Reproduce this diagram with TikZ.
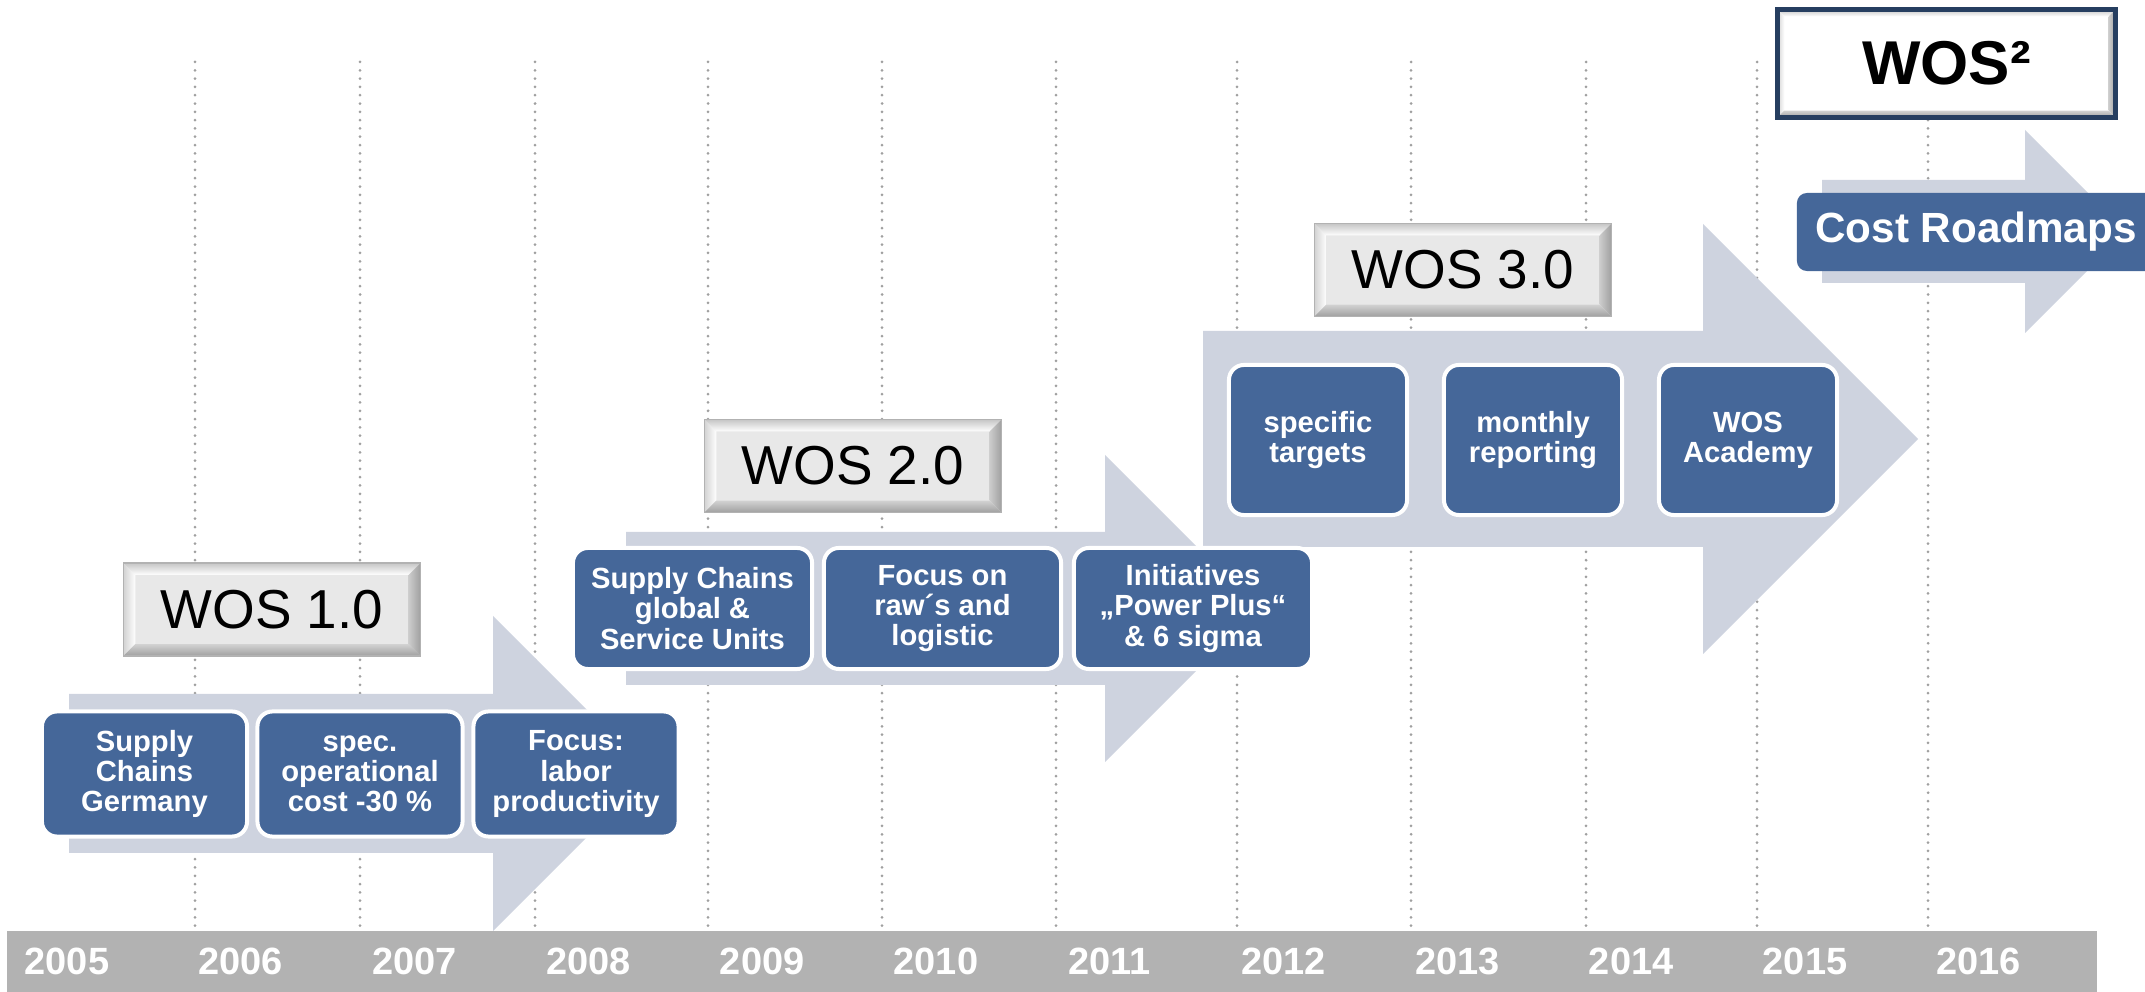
\documentclass[tikz,border=0pt]{standalone}
\usepackage{fontspec}
\setmainfont{Liberation Sans}
\usepackage{xcolor}

\definecolor{wosblue}{RGB}{69,103,153}
\definecolor{arrowgray}{RGB}{206,211,223}
\definecolor{bargray}{RGB}{178,178,178}
\definecolor{dotgray}{RGB}{160,160,160}
\definecolor{framenavy}{RGB}{38,62,96}

\tikzset{
    gridline/.style={dotgray, line width=0.03cm, line cap=round, dash pattern=on 0pt off 0.083cm},
    yearlabel/.style={text=white, font=\bfseries\fontsize{10.8}{13}\selectfont},
    itembox/.style={fill=wosblue, draw=white, line width=0.04cm, rounded corners=0.15cm,
        text=white, align=center, inner sep=0pt, font=\bfseries\fontsize{8.3}{8.6}\selectfont},
    bevel/.style={path picture={
        \coordinate (pa) at (path picture bounding box.north west);
        \coordinate (pb) at (path picture bounding box.north east);
        \coordinate (pc) at (path picture bounding box.south east);
        \coordinate (pd) at (path picture bounding box.south west);
        \shade[top color=gray!45, bottom color=white] (pa) -- (pb) -- ([shift={(-#1,-#1)}]pb) -- ([shift={(#1,-#1)}]pa) -- cycle;
        \shade[left color=gray!35, right color=white] (pa) -- ([shift={(#1,-#1)}]pa) -- ([shift={(#1,#1)}]pd) -- (pd) -- cycle;
        \shade[left color=gray!40, right color=gray!75] (pb) -- (pc) -- ([shift={(-#1,#1)}]pc) -- ([shift={(-#1,-#1)}]pb) -- cycle;
        \shade[top color=gray!35, bottom color=gray!75] (pd) -- ([shift={(#1,#1)}]pd) -- ([shift={(-#1,#1)}]pc) -- (pc) -- cycle;
    }},
    wosbox/.style={fill=gray!18, draw=gray!60, line width=0.4pt, bevel=0.12cm,
        minimum width=2.97cm, minimum height=0.93cm, inner sep=0pt,
        font=\fontsize{15.6}{18}\selectfont},
    wossq/.style={fill=white, draw=framenavy, line width=0.05cm, bevel=0.07cm,
        minimum width=3.38cm, minimum height=1.08cm, inner sep=0pt,
        font=\bfseries\fontsize{17.6}{20}\selectfont},
    costbox/.style={fill=wosblue, rounded corners=0.1cm, text=white, inner sep=0pt,
        minimum width=3.58cm, minimum height=0.78cm,
        font=\bfseries\fontsize{12}{14}\selectfont}
}

\begin{document}
\begin{tikzpicture}[x=0.01cm, y=-0.01cm]
    \useasboundingbox (0,0) rectangle (2145,992);

    % Grid lines
    \foreach \gx in {195,360,535,708,882,1056,1237,1411,1586,1757,1928}
        \draw[gridline] (\gx,62) -- (\gx,931);

    % Year bar
    \fill[bargray] (7,931) rectangle (2097,992);
    \foreach \yr [count=\i from 0] in {2005,...,2016}
        \node[yearlabel] (y\yr) at ({67+173.8*\i},961.5) {\yr};

    % Stage arrows
    \fill[arrowgray] (69,694) -- (493,694) -- (493,616) -- (650.5,773.5) -- (493,931) -- (493,853) -- (69,853) -- cycle;
    \fill[arrowgray] (626,532) -- (1105,532) -- (1105,455) -- (1258.5,608.5) -- (1105,762) -- (1105,685) -- (626,685) -- cycle;
    \fill[arrowgray] (1203,331) -- (1703,331) -- (1703,224) -- (1918,439) -- (1703,654) -- (1703,547) -- (1203,547) -- cycle;
    \fill[arrowgray] (1822,180) -- (2025,180) -- (2025,130) -- (2126.5,231.5) -- (2025,333) -- (2025,283) -- (1822,283) -- cycle;

    % Stage titles
    \node[wosbox] (wos1) at (272,609.5) {WOS 1.0};
    \node[wosbox] (wos2) at (853,466) {WOS 2.0};
    \node[wosbox] (wos3) at (1463,270) {WOS 3.0};
    \node[wossq] (wossq) at (1946.5,63.5) {WOS²};

    % WOS 1.0
    \node[itembox, minimum width=2.05cm, minimum height=1.25cm] (sc) at (144.5,774) {Supply\\Chains\\Germany};
    \node[itembox, minimum width=2.05cm, minimum height=1.25cm] (opc) at (360,774) {spec.\\operational\\cost -30 \%};
    \node[itembox, minimum width=2.05cm, minimum height=1.25cm] (lab) at (576,774) {Focus:\\labor\\productivity};

    % WOS 2.0
    \node[itembox, minimum width=2.39cm, minimum height=1.21cm] (glob) at (692.5,608.5) {Supply Chains\\global \&\\Service Units};
    \node[itembox, minimum width=2.37cm, minimum height=1.21cm] (raw) at (942.5,608.5) {Focus on\\raw´s and\\logistic};
    \node[itembox, minimum width=2.38cm, minimum height=1.21cm] (init) at (1193,608.5) {Initiatives\\„Power Plus“\\\& 6 sigma};

    % WOS 3.0
    \node[itembox, minimum width=1.78cm, minimum height=1.50cm] (targ) at (1318,440) {specific\\targets};
    \node[itembox, minimum width=1.78cm, minimum height=1.50cm] (rep) at (1533,440) {monthly\\reporting};
    \node[itembox, minimum width=1.78cm, minimum height=1.50cm] (acad) at (1748,440) {WOS\\Academy};

    % WOS^2
    \node[costbox] (cost) at (1976,232) {Cost Roadmaps};
\end{tikzpicture}
\end{document}
